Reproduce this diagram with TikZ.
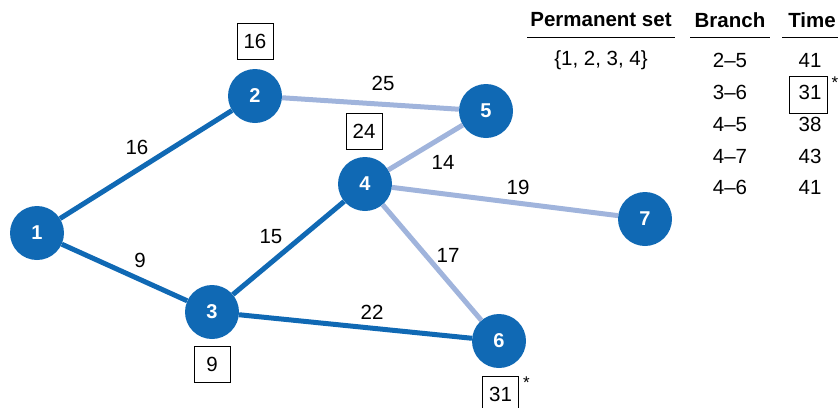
\documentclass[tikz,border=0pt]{standalone}
\usepackage{fontspec}
\setmainfont{Liberation Sans}
\definecolor{darkblue}{RGB}{16,105,180}
\definecolor{lightblue}{RGB}{160,180,220}
\tikzset{
  vert/.style={circle, fill=darkblue, minimum size=54pt, inner sep=0pt, text=white, font=\fontsize{20}{24}\selectfont\bfseries},
  tree/.style={line width=5pt, darkblue},
  cand/.style={line width=5pt, lightblue},
  lbl/.style={font=\fontsize{20.5}{24}\selectfont},
  tag/.style={draw, line width=0.9pt, minimum width=36pt, minimum height=36pt, inner sep=0pt, font=\fontsize{20.5}{24}\selectfont},
  star/.style={anchor=north west, inner sep=1pt, font=\fontsize{17}{20}\selectfont},
  hdr/.style={font=\fontsize{20.5}{24}\selectfont\bfseries}
}
\begin{document}
\begin{tikzpicture}[x=1pt, y=-1pt]
      \useasboundingbox (0,0) rectangle (838,407);
      % vertices
      \node[vert] (n1) at (37,233) {1};
      \node[vert] (n2) at (255,96) {2};
      \node[vert] (n3) at (212,312) {3};
      \node[vert] (n4) at (365,184) {4};
      \node[vert] (n5) at (486,111) {5};
      \node[vert] (n6) at (499,341) {6};
      \node[vert] (n7) at (645,219) {7};
      % branches
      \draw[cand] (n2) -- (n5);
      \draw[cand] (n4) -- (n5);
      \draw[cand] (n4) -- (n7);
      \draw[cand] (n4) -- (n6);
      \draw[tree] (n1) -- (n2);
      \draw[tree] (n1) -- (n3);
      \draw[tree] (n3) -- (n4);
      \draw[tree] (n3) -- (n6);
      \node[lbl] (w12) at (137,147) {16};
      \node[lbl] (w25) at (383,83) {25};
      \node[lbl] (w45) at (443,162) {14};
      \node[lbl] (w47) at (518,187) {19};
      \node[lbl] (w13) at (140,260) {9};
      \node[lbl] (w34) at (271,237) {15};
      \node[lbl] (w46) at (448,255) {17};
      \node[lbl] (w36) at (372,312) {22};
      % boxed times
      \node[tag] (t2) at (255,41) {16};
      \node[tag] (t4) at (364,131) {24};
      \node[tag] (t3) at (212,364) {9};
      \node[tag] (t6) at (500.5,394.5) {31};
      \node[star] at ([xshift=3pt]t6.north east) {*};
      % table
      \node[hdr] (hp) at (601,20) {Permanent set};
      \node[hdr] (hb) at (730,20) {Branch};
      \node[hdr] (ht) at (812,20) {Time};
      \draw[line width=0.9pt] (527,37) -- (675,37);
      \draw[line width=0.9pt] (690,37) -- (770,37);
      \draw[line width=0.9pt] (782,37) -- (838,37);
      \node[lbl] (ps) at (601,60) {\{1, 2, 3, 4\}};
      \foreach \b/\t [count=\i] in {2--5/41, 3--6/31, 4--5/38, 4--7/43, 4--6/41} {
        \node[lbl] (b\i) at (730,29+31.75*\i) {\b};
        \node[lbl] (tm\i) at (810,29+31.75*\i) {\t};
      }
      \node[tag, minimum width=38pt, minimum height=37pt] (tb) at (808,94.5) {};
      \node[star] at ([xshift=3pt]tb.north east) {*};
    \end{tikzpicture}
\end{document}
